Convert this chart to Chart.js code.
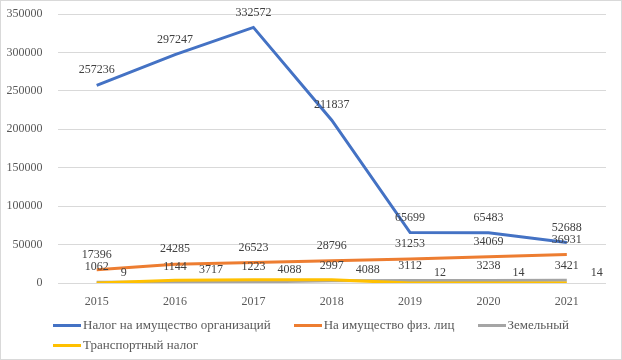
<!DOCTYPE html>
<html>
<head>
<meta charset="utf-8">
<script src="https://cdn.jsdelivr.net/npm/chart.js@4.4.1/dist/chart.umd.min.js"></script>
<style>
	body { margin: 0; background: #fff; }
	.wrap {
		position: relative;
		width: 620px;
		height: 358px;
		border: 1px solid #d9d9d9;
		font-family: 'Liberation Serif', 'Times New Roman', serif;
	}
	canvas { position: absolute; left: 0; top: 0; }
	.legend {
		position: absolute;
		left: 52px;
		top: 316px;
		width: 568px;
		display: flex;
		flex-wrap: wrap;
		column-gap: 23px;
		row-gap: 4px;
		font-size: 13px;
		color: #595959;
	}
	.legend .item { display: flex; align-items: center; height: 16px; white-space: nowrap; }
	.legend .item i { display: inline-block; width: 28px; height: 3px; margin-right: 2px; }
</style>
</head>
<body>
<div class="wrap">
	<canvas id="tax-chart" width="620" height="358"></canvas>
	<div class="legend" id="tax-legend"></div>
</div>
<script>
const years = ['2015', '2016', '2017', '2018', '2019', '2020', '2021'];
const orgPropertyTax = [257236, 297247, 332572, 211837, 65699, 65483, 52688];
const personalPropertyTax = [17396, 24285, 26523, 28796, 31253, 34069, 36931];
const landTax = [1062, 1144, 1223, 2997, 3112, 3238, 3421];
const transportTax = [9, 3717, 4088, 4088, 12, 14, 14];
const seriesNames = [
	'Налог на имущество организаций',
	'На имущество физ. лиц',
	'Земельный',
	'Транспортный налог',
];
const seriesColors = ['#4472c4', '#ed7d31', '#a5a5a5', '#ffc000'];
const yMax = 350000;
const yStep = 50000;

const fontFamily = "'Liberation Serif', 'Times New Roman', serif";
Chart.defaults.font.family = fontFamily;
Chart.defaults.font.size = 12;
Chart.defaults.color = '#595959';

// подписи значений как в Excel: сверху, у транспортного справа
const valueLabels = {
	id: 'valueLabels',
	afterDatasetsDraw(chart, args, opts) {
		const ctx = chart.ctx;
		ctx.save();
		ctx.font = '12px ' + fontFamily;
		ctx.fillStyle = '#404040';
		ctx.textBaseline = 'middle';
		chart.data.datasets.forEach((ds, i) => {
			const pos = opts.positions[i];
			const meta = chart.getDatasetMeta(i);
			ctx.textAlign = pos.align;
			meta.data.forEach((pt, j) => {
				ctx.fillText(String(ds.data[j]), pt.x + pos.dx, pt.y + pos.dy);
			});
		});
		ctx.restore();
	},
};

const allSeries = [orgPropertyTax, personalPropertyTax, landTax, transportTax];

new Chart(document.getElementById('tax-chart'), {
	type: 'line',
	data: {
		labels: years,
		datasets: allSeries.map((values, i) => ({
			label: seriesNames[i],
			data: values,
			borderColor: seriesColors[i],
			backgroundColor: seriesColors[i],
			borderWidth: 3,
			pointRadius: 0,
			tension: 0,
			order: allSeries.length - i,
		})),
	},
	options: {
		responsive: false,
		animation: false,
		layout: {
			padding: { top: 13, right: 15, bottom: 46, left: 0 },
		},
		plugins: {
			legend: { display: false },
			tooltip: { enabled: false },
			valueLabels: {
				positions: [
					{ align: 'center', dx: 0, dy: -15 },
					{ align: 'center', dx: 0, dy: -15 },
					{ align: 'center', dx: 0, dy: -15 },
					{ align: 'left', dx: 24, dy: -10 },
				],
			},
		},
		scales: {
			x: {
				offset: true,
				grid: { display: false, drawTicks: false },
				border: { display: false },
				ticks: { padding: 12 },
				afterFit: (scale) => { scale.height = 30; },
			},
			y: {
				min: 0,
				max: yMax,
				grid: { color: '#d9d9d9', drawTicks: false },
				border: { display: false },
				ticks: {
					stepSize: yStep,
					padding: 15,
					callback: (v) => String(v),
				},
				afterFit: (scale) => {
					scale.width = 56.5;
					// отступ подписей не должен сдвигать верх области графика
					scale.paddingTop = 7;
					scale.paddingBottom = 7;
				},
			},
		},
	},
	plugins: [valueLabels],
});

const legend = document.getElementById('tax-legend');
seriesNames.forEach((name, i) => {
	const item = document.createElement('span');
	item.className = 'item';
	item.innerHTML = '<i style="background:' + seriesColors[i] + '"></i>' + name;
	legend.appendChild(item);
});
</script>
</body>
</html>
